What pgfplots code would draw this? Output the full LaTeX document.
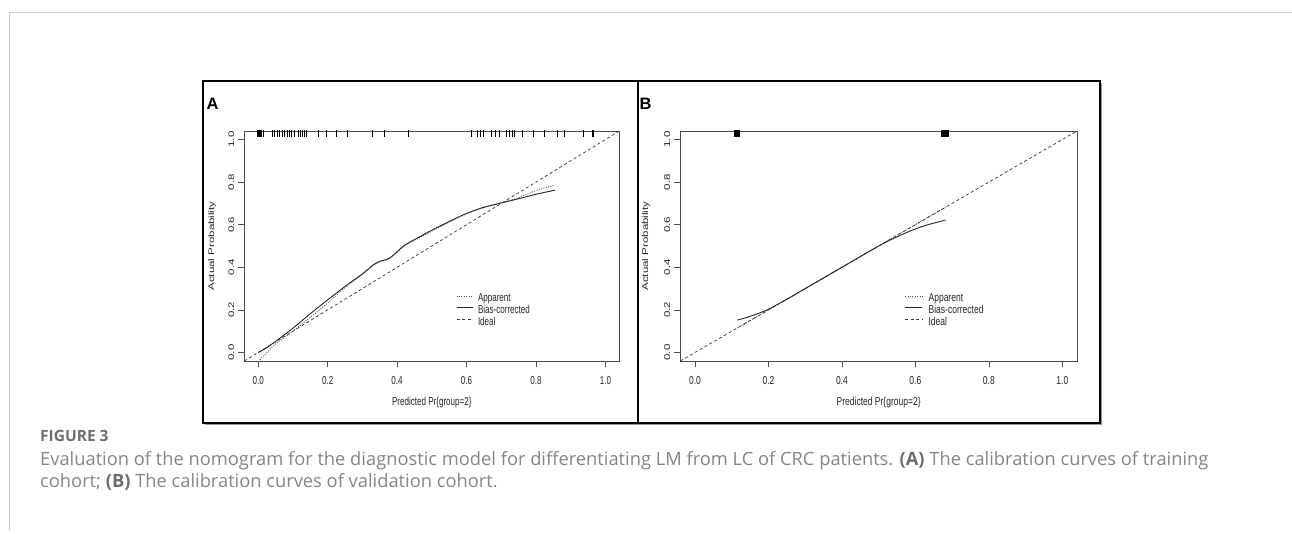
\documentclass[border=0pt]{standalone}
\usepackage{fontspec}
\setmainfont{Liberation Sans}
\newfontfamily\capfont{Open Sans}
\usepackage{pgfplots}
\pgfplotsset{compat=1.18}
\definecolor{figgray}{HTML}{6E6E6E}
\definecolor{capgray}{HTML}{858585}
\definecolor{pagegray}{HTML}{CCCCCC}
\def\sqf{0.7}
\newcommand{\sq}[1]{\scalebox{\sqf}[1]{#1}}
\newcommand{\sqv}[1]{\scalebox{1}[\sqf]{#1}}
\newcommand{\pf}{\fontsize{11.5}{12}\selectfont}
\newcommand{\ff}{\fontsize{8.5}{9}\selectfont}

\pgfplotsset{
  rcal/.style={
    scale only axis, height=230pt,
    xmin=-0.04, xmax=1.04, ymin=-0.04, ymax=1.04,
    axis line style={draw=black!70, line width=0.7pt},
    tick style={draw=black!70, line width=0.7pt},
    tick align=outside, tick pos=left, major tick length=6pt,
    xtick={0,0.2,0.4,0.6,0.8,1}, ytick={0,0.2,0.4,0.6,0.8,1},
    xticklabels={\sq{0.0},\sq{0.2},\sq{0.4},\sq{0.6},\sq{0.8},\sq{1.0}},
    yticklabels={\sqv{0.0},\sqv{0.2},\sqv{0.4},\sqv{0.6},\sqv{0.8},\sqv{1.0}},
    every tick label/.append style={font=\pf, text=black!85, inner sep=0pt},
    xticklabel style={anchor=north},
    yticklabel style={rotate=90, anchor=south},
    xticklabel shift=9pt, yticklabel shift=4pt,
    every axis x label/.style={at={(axis description cs:0.5,-0.1826)}, anchor=center, font=\pf, text=black!85},
    every axis y label/.style={at={(axis description cs:-0.086,0.5)}, anchor=center, rotate=90, font=\pf, text=black!85},
    legend style={draw=none, fill=none, anchor=north west, inner sep=0pt, outer sep=0pt,
      row sep=0pt, column sep=5pt, font=\pf, text=black!85,
      nodes={inner sep=0pt, text height=8pt, text depth=3.7pt}, cells={anchor=west}},
    legend cell align=left,
  },
  app/.style={black!70, dash pattern=on 0.9pt off 1.5pt, line width=0.9pt},
  bias/.style={black!85, line width=0.9pt},
  ideal/.style={black!80, dash pattern=on 3pt off 2.6pt, line width=0.7pt},
  rug/.style={only marks, mark=|, mark size=3.2pt, mark options={line width=0.8pt, black}, forget plot},
}

\begin{document}
\begin{tikzpicture}
\path[use as bounding box] (0pt,0pt) rectangle (1292pt,533pt);
% page rules
\draw[pagegray, line width=1pt] (9.5pt,520.7pt) -- (1292pt,520.7pt);
\draw[pagegray, line width=1pt] (9.5pt,520.7pt) -- (9.5pt,2pt);
% panel frames with shadow
\fill[black!40] (205pt,108pt) rectangle (640pt,450pt);
\fill[black!40] (640pt,108pt) rectangle (1102pt,450pt);
\fill[white] (203pt,110pt) rectangle (638pt,452pt);
\fill[white] (638pt,110pt) rectangle (1100pt,452pt);
\draw[black, line width=2.4pt] (203pt,110pt) rectangle (638pt,452pt);
\draw[black, line width=2.4pt] (638pt,110pt) rectangle (1100pt,452pt);
\node[anchor=base west, inner sep=0pt, font=\bfseries\fontsize{16.5}{18}\selectfont] at (206.5pt,423pt) {A};
\node[anchor=base west, inner sep=0pt, font=\bfseries\fontsize{16.5}{18}\selectfont] at (639.5pt,423pt) {B};

% ---------------- Panel A ----------------
\def\sqf{0.7}
\begin{axis}[rcal, at={(244.3pt,172pt)}, anchor=south west, width=375pt,
  xlabel={\sq{Predicted Pr\{group=2\}}}, ylabel={\sqv{Actual Probability}},
  legend style={at={(axis description cs:0.5648,0.2926)}},
  legend image code/.code={\draw[#1] (0pt,3.5pt) -- (16pt,3.5pt);}]
\addplot[app, smooth, tension=0.4] coordinates {
 (0.005,-0.034) (0.05,0.04) (0.1,0.1) (0.15,0.165) (0.2,0.232) (0.25,0.305)
 (0.3,0.367) (0.33,0.408) (0.35,0.426) (0.37,0.435) (0.38,0.443) (0.4,0.47)
 (0.42,0.5) (0.45,0.527) (0.5,0.57) (0.55,0.612) (0.6,0.651) (0.65,0.681)
 (0.7,0.703) (0.75,0.727) (0.8,0.76) (0.853,0.785)};
\addlegendentry{\sq{Apparent}}
\addplot[bias, smooth, tension=0.4] coordinates {
 (0.0,0.0) (0.02,0.018) (0.05,0.052) (0.1,0.114) (0.15,0.182) (0.2,0.247)
 (0.25,0.31) (0.3,0.369) (0.33,0.41) (0.35,0.428) (0.37,0.437) (0.38,0.445)
 (0.4,0.473) (0.42,0.502) (0.45,0.53) (0.5,0.574) (0.55,0.615) (0.6,0.653)
 (0.65,0.682) (0.7,0.702) (0.75,0.722) (0.8,0.743) (0.855,0.762)};
\addlegendentry{\sq{Bias-corrected}}
\addplot[ideal] coordinates {(-0.04,-0.04) (1.04,1.04)};
\addlegendentry{\sq{Ideal}}
\addplot[rug] table[x index=0, y expr=1.0276] {
-0.003
0.0
0.003
0.006
0.009
0.014
0.041
0.048
0.055
0.062
0.069
0.076
0.083
0.090
0.097
0.103
0.115
0.122
0.128
0.134
0.140
0.173
0.197
0.226
0.257
0.330
0.364
0.433
0.613
0.632
0.641
0.649
0.673
0.683
0.695
0.714
0.723
0.731
0.738
0.762
0.793
0.825
0.861
0.882
0.9375
0.962
0.966
};
\node[anchor=base west, inner sep=0pt, font=\ff, text=black!85] at (axis description cs:0,-0.2535) {\sq{B= 1000 repetitions, boot}};
\node[anchor=base east, inner sep=0pt, font=\ff, text=black!85] at (axis description cs:1,-0.2535) {\sq{Mean absolute error=0.031 n=60}};
\end{axis}

% ---------------- Panel B ----------------
\def\sqf{0.74}
\begin{axis}[rcal, at={(680.3pt,172pt)}, anchor=south west, width=396.7pt,
  xlabel={\sq{Predicted Pr\{group=2\}}}, ylabel={\sqv{Actual Probability}},
  every axis y label/.append style={at={(axis description cs:-0.0865,0.5)}},
  legend style={at={(axis description cs:0.5657,0.2926)}, column sep=6pt},
  legend image code/.code={\draw[#1] (0pt,3.5pt) -- (17pt,3.5pt);}]
\addplot[app] coordinates {(0.116,0.116) (0.3,0.3) (0.5,0.5) (0.682,0.682)};
\addlegendentry{\sq{Apparent}}
\addplot[bias, smooth, tension=0.4] coordinates {
 (0.115,0.152) (0.14,0.164) (0.17,0.182) (0.2,0.203) (0.25,0.25) (0.3,0.3)
 (0.4,0.4) (0.5,0.5) (0.55,0.543) (0.58,0.566) (0.6,0.58) (0.63,0.598)
 (0.66,0.612) (0.682,0.622)};
\addlegendentry{\sq{Bias-corrected}}
\addplot[ideal] coordinates {(-0.04,-0.04) (1.04,1.04)};
\addlegendentry{\sq{Ideal}}
\addplot[rug, mark options={line width=1.2pt, black}] table[x index=0, y expr=1.0276] {
0.107
0.110
0.113
0.116
0.119
0.122
0.672
0.675
0.678
0.683
0.686
0.689
};
\node[anchor=base west, inner sep=0pt, font=\ff, text=black!85] at (axis description cs:0,-0.2535) {\sq{B= 1000 repetitions, boot}};
\node[anchor=base east, inner sep=0pt, font=\ff, text=black!85] at (axis description cs:1,-0.2535) {\sq{Mean absolute error=0.046 n=60}};
\end{axis}

% caption
\node[anchor=base west, inner sep=0pt, font=\capfont\bfseries\fontsize{15.5}{18}\selectfont, text=figgray] at (40pt,92pt) {FIGURE 3};
\node[anchor=base west, inner sep=0pt, font=\capfont\fontsize{18.3}{22}\selectfont, text=capgray] at (40pt,68pt)
 {Evaluation of the nomogram for the diagnostic model for differentiating LM from LC of CRC patients. {\color{figgray}\bfseries(A)} The calibration curves of training};
\node[anchor=base west, inner sep=0pt, font=\capfont\fontsize{18.3}{22}\selectfont, text=capgray] at (40pt,45.5pt)
 {cohort; {\color{figgray}\bfseries(B)} The calibration curves of validation cohort.};
\end{tikzpicture}
\end{document}
